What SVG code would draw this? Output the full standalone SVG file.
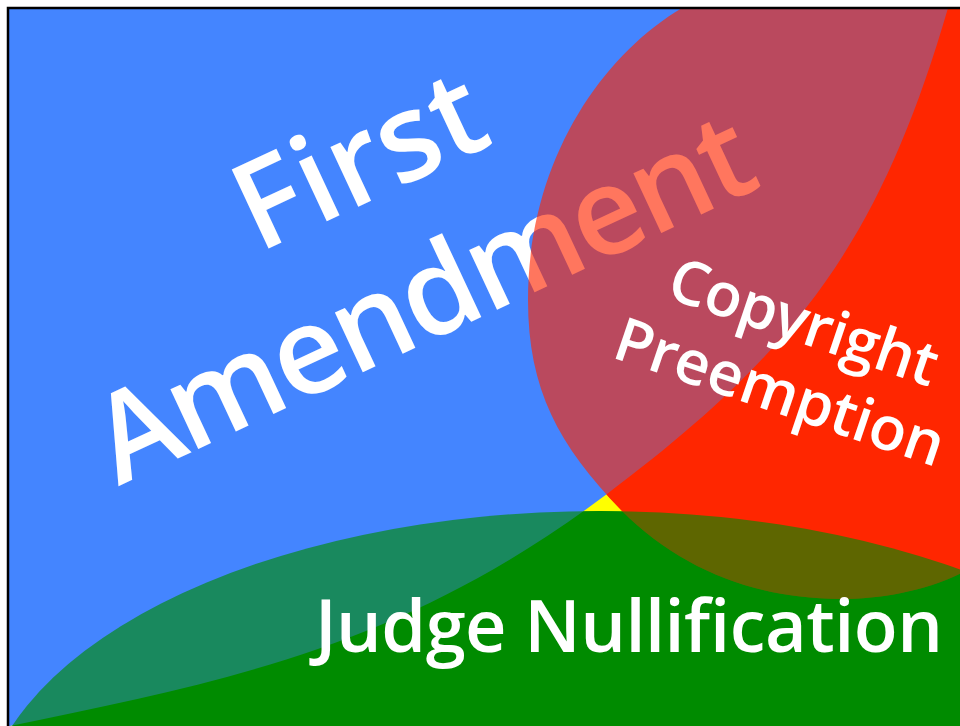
<svg xmlns="http://www.w3.org/2000/svg" width="960" height="726" viewBox="0 0 960 726">
  <defs>
    <clipPath id="frame"><rect x="8" y="8" width="952" height="718"/></clipPath>
    <path id="redShape" d="M730,-28 L682,8 C598,58 528,165 528,300 C528,390 559,446 622,511 C681,570 757,599 840,599 C901,599 965,582 1010,540 L1010,-30 Z"/>
    <ellipse id="greenShape" cx="600" cy="826" rx="620" ry="315"/>
  </defs>
  <style>
    .red{fill:#ff2600}
    .green{fill:#008c00}
    .blue{fill:#4485ff}
    .veil{opacity:0.63}
    .lbl{font-family:"Open Sans","DejaVu Sans",sans-serif;font-weight:600;fill:#ffffff}
  </style>
  <rect width="960" height="726" fill="#ffffff"/>
  <g clip-path="url(#frame)">
    <rect x="0" y="0" width="960" height="726" fill="#ffff00"/>
    <use href="#greenShape" class="green"/>
    <use href="#redShape" class="red"/>
    <path id="blueShape" class="blue" d="M-10,-10 L953,-10 L948,8 C881,238 799,350 607,494 C407,644 235,680 10,726 L-10,732 Z"/>
    <g id="first-amendment" transform="translate(377,198) rotate(-25)">
      <text class="lbl" x="0" y="0" font-size="122" text-anchor="middle" textLength="262" lengthAdjust="spacing">First</text>
      <text class="lbl" x="0" y="152" font-size="122" text-anchor="middle" textLength="712" lengthAdjust="spacing">Amendment</text>
    </g>
    <use href="#redShape" class="red veil"/>
    <use href="#greenShape" class="green veil"/>
    <g id="copyright-preemption" transform="translate(797,342) rotate(18.7)">
      <text class="lbl" x="0" y="0" font-size="61" text-anchor="middle" textLength="280" lengthAdjust="spacing">Copyright</text>
      <text class="lbl" x="0" y="74" font-size="61" text-anchor="middle" textLength="344" lengthAdjust="spacing">Preemption</text>
    </g>
    <g id="judge-nullification">
      <text class="lbl" x="315" y="652" font-size="72" textLength="628" lengthAdjust="spacing">Judge Nullification</text>
    </g>
  </g>
  <rect x="8" y="8" width="1000" height="1000" fill="none" stroke="#000000" stroke-width="2.5"/>
</svg>
